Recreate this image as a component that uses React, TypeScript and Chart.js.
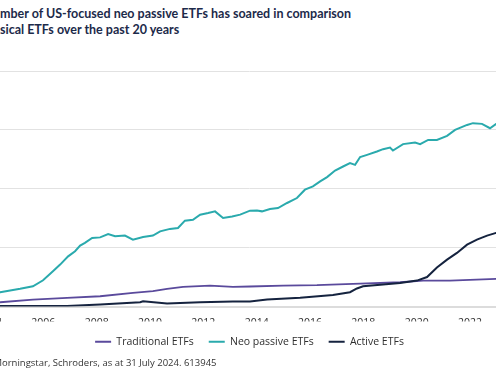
import React, { useEffect, useRef } from "react";
import { Chart, registerables } from "chart.js";

Chart.register(...registerables);

// ---- Data ----
const SERIES_LABELS = ["Traditional ETFs", "Neo passive ETFs", "Active ETFs"];
const SERIES_COLORS = ["#5a4a9c", "#2aaaad", "#15233f"];

const tradYears = [2004.0, 2004.38, 2005.61, 2006.89, 2008.13, 2009.36, 2010.11, 2010.64, 2011.24, 2012.25, 2013.11, 2013.75, 2014.99, 2016.26, 2017.88, 2019.38, 2020.24, 2021.25, 2022.98, 2023.6, 2024.58];
const tradValues = [32, 36, 59, 74, 87, 116, 130, 150, 167, 178, 167, 170, 178, 181, 195, 206, 220, 220, 235, 240, 245];

const neoYears = [2004.0, 2004.38, 2005.13, 2005.61, 2005.99, 2006.36, 2006.63, 2006.93, 2007.19, 2007.38, 2007.56, 2007.83, 2008.13, 2008.43, 2008.69, 2009.06, 2009.36, 2009.74, 2010.11, 2010.38, 2010.75, 2011.05, 2011.31, 2011.61, 2011.88, 2012.18, 2012.44, 2012.74, 2013.08, 2013.38, 2013.75, 2014.01, 2014.2, 2014.5, 2014.8, 2015.14, 2015.51, 2015.81, 2016.11, 2016.38, 2016.64, 2016.94, 2017.24, 2017.5, 2017.69, 2017.88, 2018.14, 2018.51, 2018.74, 2019.0, 2019.11, 2019.49, 2019.94, 2020.13, 2020.43, 2020.76, 2021.14, 2021.44, 2021.89, 2022.11, 2022.45, 2022.75, 2022.98, 2023.3, 2024.0, 2024.58];
const neoValues = [100, 121, 150, 172, 223, 299, 356, 426, 469, 517, 540, 582, 587, 616, 596, 602, 568, 591, 602, 638, 659, 667, 729, 737, 780, 794, 808, 752, 765, 780, 814, 816, 808, 828, 836, 879, 921, 992, 1020, 1062, 1099, 1155, 1189, 1218, 1203, 1269, 1288, 1316, 1336, 1350, 1325, 1379, 1392, 1379, 1415, 1415, 1449, 1500, 1542, 1557, 1551, 1514, 1551, 1570, 1590, 1610];

const activeYears = [2004.0, 2004.38, 2006.89, 2008.13, 2009.63, 2009.74, 2010.64, 2011.88, 2013.11, 2013.75, 2014.39, 2015.63, 2016.86, 2017.5, 2017.76, 2017.99, 2018.74, 2019.38, 2020.01, 2020.39, 2020.76, 2021.14, 2021.51, 2021.89, 2022.26, 2022.64, 2022.98, 2023.5, 2024.0, 2024.58];
const activeValues = [2, 5, 5, 17, 36, 45, 25, 36, 42, 42, 59, 74, 97, 121, 153, 172, 186, 199, 220, 250, 331, 398, 455, 525, 568, 602, 625, 660, 700, 730];

const X_MIN = 2004;
const X_MAX = 2023.4625;
const X_STEP = 2;
const Y_MIN = 0;
const Y_MAX = 2000;
const Y_STEP = 500;

const TITLE_1_HIDDEN = "The nu";
const TITLE_1 = "mber of US-focused neo passive ETFs has soared in comparison";
const TITLE_2_HIDDEN = "to clas";
const TITLE_2 = "sical ETFs over the past 20 years";
const SOURCE_HIDDEN = "Source: M";
const SOURCE = "orningstar, Schroders, as at 31 July 2024. 613945";

function toPoints(xs: number[], ys: number[]) {
  return xs.map((x, i) => ({ x, y: ys[i] }));
}

function ClippedLine(props: { hidden: string; text: string; style: React.CSSProperties }) {
  return (
    <div style={{ position: "absolute", whiteSpace: "nowrap", ...props.style }}>
      <span style={{ position: "relative" }}>
        <span style={{ position: "absolute", right: "100%", top: 0 }}>{props.hidden}</span>
        {props.text}
      </span>
    </div>
  );
}

export default function App() {
  const canvasRef = useRef<HTMLCanvasElement | null>(null);

  useEffect(() => {
    const canvas = canvasRef.current;
    if (!canvas) return;
    const chart = new Chart(canvas, {
      type: "line",
      data: {
        datasets: [
          {
            label: SERIES_LABELS[0],
            data: toPoints(tradYears, tradValues),
            borderColor: SERIES_COLORS[0],
            backgroundColor: SERIES_COLORS[0],
            borderWidth: 1.8,
            pointRadius: 0,
            order: 1,
          },
          {
            label: SERIES_LABELS[1],
            data: toPoints(neoYears, neoValues),
            borderColor: SERIES_COLORS[1],
            backgroundColor: SERIES_COLORS[1],
            borderWidth: 2,
            pointRadius: 0,
            order: 2,
          },
          {
            label: SERIES_LABELS[2],
            data: toPoints(activeYears, activeValues),
            borderColor: SERIES_COLORS[2],
            backgroundColor: SERIES_COLORS[2],
            borderWidth: 2,
            pointRadius: 0,
            order: 0,
          },
        ],
      },
      options: {
        animation: false,
        responsive: false,
        maintainAspectRatio: false,
        devicePixelRatio: 1,
        layout: { padding: { left: 30, right: 0, top: 11, bottom: 15 } },
        plugins: {
          tooltip: { enabled: false },
          legend: {
            position: "bottom",
            align: "center",
            labels: {
              boxWidth: 16,
              boxHeight: 2,
              padding: 15,
              color: "#2e2e2e",
              font: { family: "'Open Sans'", size: 10.5 },
              sort: (a: any, b: any) => a.datasetIndex - b.datasetIndex,
              generateLabels: (c: any) =>
                Chart.defaults.plugins.legend.labels.generateLabels(c).map((l: any) => ({
                  ...l,
                  lineWidth: 0,
                  fillStyle: l.strokeStyle,
                })),
            },
          },
        },
        scales: {
          x: {
            type: "linear",
            min: X_MIN,
            max: X_MAX,
            grid: { display: false, drawTicks: false },
            border: { display: true, color: "#dcdcdc", width: 2 },
            afterFit: (s: any) => {
              s.height = 15;
            },
            ticks: {
              stepSize: X_STEP,
              includeBounds: false,
              autoSkip: false,
              maxRotation: 0,
              padding: 10,
              color: "#2e2e2e",
              font: { family: "'Open Sans'", size: 10.5 },
              callback: (v: any) => String(v),
            },
          },
          y: {
            min: Y_MIN,
            max: Y_MAX,
            afterFit: (s: any) => {
              s.width = 0;
            },
            grid: { color: "#e2e2e2", lineWidth: 1, drawTicks: false },
            border: { display: false },
            ticks: { stepSize: Y_STEP, display: false },
          },
        },
      },
    });
    return () => chart.destroy();
  }, []);

  const titleStyle: React.CSSProperties = {
    fontFamily: "Lato, sans-serif",
    fontWeight: 700,
    fontSize: 12.5,
    lineHeight: "16px",
    color: "#1c2a4a",
  };

  return (
    <div
      style={{
        position: "fixed",
        left: 0,
        top: 0,
        width: 496,
        height: 372,
        overflow: "hidden",
        background: "#ffffff",
      }}
    >
      <ClippedLine hidden={TITLE_1_HIDDEN} text={TITLE_1} style={{ ...titleStyle, left: 0, top: 6 }} />
      <ClippedLine hidden={TITLE_2_HIDDEN} text={TITLE_2} style={{ ...titleStyle, left: 0, top: 22 }} />
      <canvas
        ref={canvasRef}
        width={549}
        height={312}
        style={{ position: "absolute", left: -40, top: 60, width: 549, height: 312 }}
      />
      <ClippedLine
        hidden={SOURCE_HIDDEN}
        text={SOURCE}
        style={{
          left: 2,
          top: 356,
          fontFamily: "'Open Sans', sans-serif",
          fontSize: 9.5,
          lineHeight: "14px",
          color: "#333333",
        }}
      />
    </div>
  );
}
